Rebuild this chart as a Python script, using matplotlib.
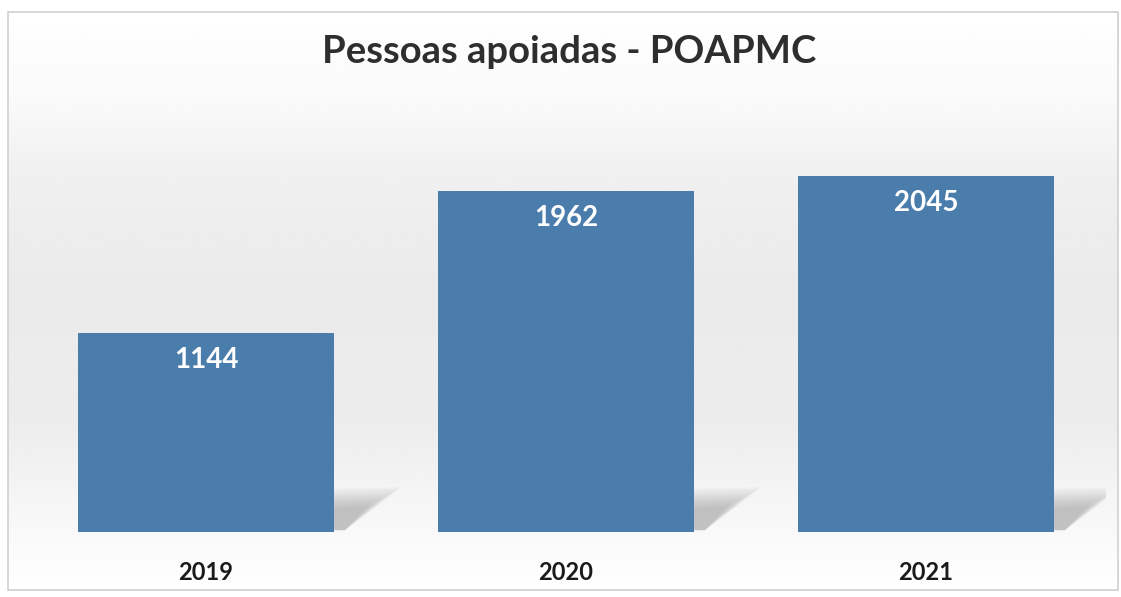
import matplotlib
matplotlib.use("Agg")
import matplotlib.pyplot as plt
import numpy as np
from matplotlib.patches import Polygon, Rectangle

years = ["2019", "2020", "2021"]
values = [1144, 1962, 2045]
title = "Pessoas apoiadas - POAPMC"

bar_color = "#4a7dab"
plt.rcParams['font.family'] = ['Lato', 'DejaVu Sans']

W, H = 1121, 597
fig = plt.figure(figsize=(W / 100, H / 100), dpi=100)

# background with soft gradient and frame
bg = fig.add_axes([0, 0, 1, 1])
bg.set_xlim(0, W)
bg.set_ylim(H, 0)
bg.axis("off")
ys = np.linspace(0, 1, 300)
prof = np.interp(ys * H, [0, 90, 170, 280, 420, 510, 597],
                 [1.0, 0.98, 0.94, 0.92, 0.925, 0.965, 1.0])
grad = np.tile(prof[:, None], (1, 10))
bg.imshow(grad, cmap="gray", vmin=0, vmax=1, extent=[8, 1118, 590, 12],
          aspect="auto", interpolation="bicubic", zorder=0)
bg.add_patch(Rectangle((8, 12), 1110, 578, fill=False, edgecolor="#d0d0d0", lw=1.2, zorder=1))

ax = fig.add_axes([26 / W, 65 / H, 1080 / W, 417.6 / H])
ax.set_facecolor("none")
x = np.arange(len(years))
bars = ax.bar(x, values, width=0.711, color=bar_color, zorder=3)
ax.set_xlim(-0.5, 2.5)
ax.set_ylim(0, 2400)
ax.axis("off")

# soft shadows to the right of each bar base
for b in bars:
    xr = b.get_x() + b.get_width()
    for k in range(14):
        poly = Polygon([[xr, 10], [xr, 250 - k * 9],
                        [xr + 0.19 - k * 0.008, 260 - k * 9], [xr + 0.03, 10]],
                       closed=True, facecolor="#7a7a7a", edgecolor="none",
                       alpha=0.035, zorder=2)
        ax.add_patch(poly)
    ax.text(b.get_x() + b.get_width() / 2, b.get_height() - 155,
            f"{int(b.get_height())}", ha="center", va="center",
            color="white", fontsize=20, fontweight="bold", zorder=4)

for xi, yl in zip(x, years):
    ax.text(xi, -230, yl, ha="center", va="center", fontsize=17,
            fontweight="bold", color="#1a1a1a", clip_on=False)

fig.text(569 / W, 1 - 52 / H, title, ha="center", va="center",
         fontsize=27.5, fontweight="bold", color="#2e2e2e")

fig.savefig("out.png", dpi=100)
